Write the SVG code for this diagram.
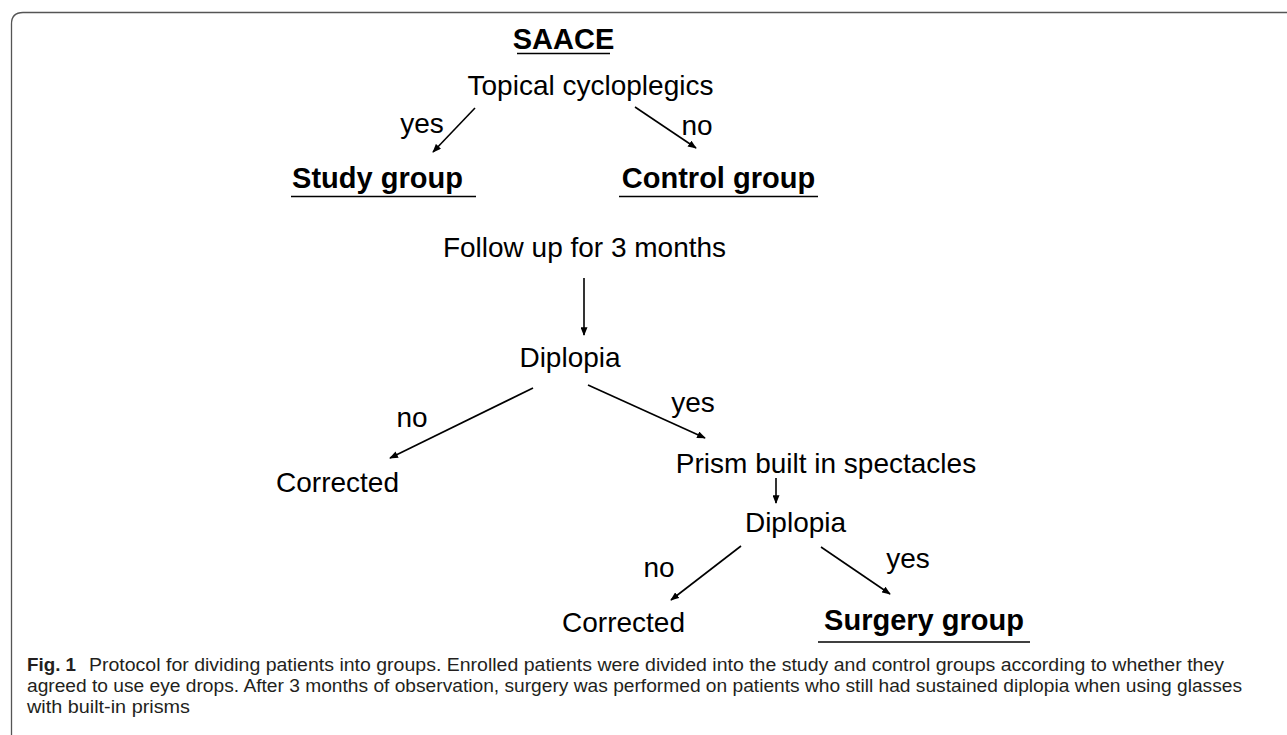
<svg xmlns="http://www.w3.org/2000/svg" width="1287" height="735" viewBox="0 0 1287 735">
  <style>
    .t { font-family: "Liberation Sans", Arial, sans-serif; font-size: 28px; fill: #000; text-anchor: middle; }
    .b { font-weight: bold; font-size: 29px; }
    .ul { stroke: #000; stroke-width: 1.6; }
    .c { stroke: #000; stroke-width: 1.6; fill: none; marker-end: url(#ah); }
    .cap { font-family: "Liberation Sans", Arial, sans-serif; font-size: 17.5px; fill: #231f20; }
  </style>
  <defs>
    <marker id="ah" viewBox="0 0 10 8" refX="9" refY="4" markerWidth="9" markerHeight="7" markerUnits="userSpaceOnUse" orient="auto">
      <path d="M0,0 L10,4 L0,8 z" fill="#000"/>
    </marker>
  </defs>
  <rect width="1287" height="735" fill="#fff"/>
  <path d="M11.5,735 V24 Q11.5,12.5 23,12.5 H1287" fill="none" stroke="#555" stroke-width="1.3"/>

  <g id="saace"><text class="t b" x="563.5" y="49" font-size="28">SAACE</text><line class="ul" x1="517" y1="53.5" x2="610" y2="53.5"/></g>
  <g id="topical"><text class="t" x="590.5" y="95">Topical cycloplegics</text></g>
  <g id="study"><text class="t b" x="377.5" y="188">Study group</text><line class="ul" x1="291" y1="196.5" x2="476" y2="196.5"/></g>
  <g id="control"><text class="t b" x="718.5" y="188">Control group</text><line class="ul" x1="619" y1="196.5" x2="818" y2="196.5"/></g>
  <g id="followup"><text class="t" x="584.5" y="257" font-size="29.5">Follow up for 3 months</text></g>
  <g id="diplopia1"><text class="t" x="570" y="367" font-size="29">Diplopia</text></g>
  <g id="corrected1"><text class="t" x="337.5" y="492">Corrected</text></g>
  <g id="prism"><text class="t" x="826" y="473" font-size="28.7">Prism built in spectacles</text></g>
  <g id="diplopia2"><text class="t" x="795.5" y="532" font-size="29">Diplopia</text></g>
  <g id="corrected2"><text class="t" x="623.5" y="632">Corrected</text></g>
  <g id="surgery"><text class="t b" x="924" y="630" font-size="30.5">Surgery group</text><line class="ul" x1="818" y1="642" x2="1030" y2="642"/></g>

  <g id="connectors">
    <line class="c" x1="475" y1="108" x2="433" y2="152"/>
    <line class="c" x1="635" y1="107" x2="696" y2="148"/>
    <line class="c" x1="584" y1="278" x2="584" y2="335"/>
    <line class="c" x1="533" y1="388" x2="390" y2="458"/>
    <line class="c" x1="588" y1="385" x2="705" y2="438"/>
    <line class="c" x1="776" y1="478" x2="776" y2="503"/>
    <line class="c" x1="741" y1="546" x2="671" y2="600"/>
    <line class="c" x1="821" y1="547" x2="890" y2="594"/>
  </g>
  <g id="edge-labels">
    <text class="t" x="422" y="133" font-size="26">yes</text>
    <text class="t" x="697" y="135" font-size="27">no</text>
    <text class="t" x="412" y="427" font-size="27">no</text>
    <text class="t" x="693" y="412" font-size="26">yes</text>
    <text class="t" x="659" y="577" font-size="27">no</text>
    <text class="t" x="908" y="568" font-size="26">yes</text>
  </g>

  <g id="caption">
    <text class="cap" x="27" y="671"><tspan font-weight="bold" textLength="49" lengthAdjust="spacingAndGlyphs">Fig. 1</tspan><tspan x="89" textLength="1135" lengthAdjust="spacingAndGlyphs">Protocol for dividing patients into groups. Enrolled patients were divided into the study and control groups according to whether they</tspan></text>
    <text class="cap" x="27" y="692" textLength="1215" lengthAdjust="spacingAndGlyphs">agreed to use eye drops. After 3 months of observation, surgery was performed on patients who still had sustained diplopia when using glasses</text>
    <text class="cap" x="27" y="713" textLength="163" lengthAdjust="spacingAndGlyphs">with built-in prisms</text>
  </g>
</svg>
